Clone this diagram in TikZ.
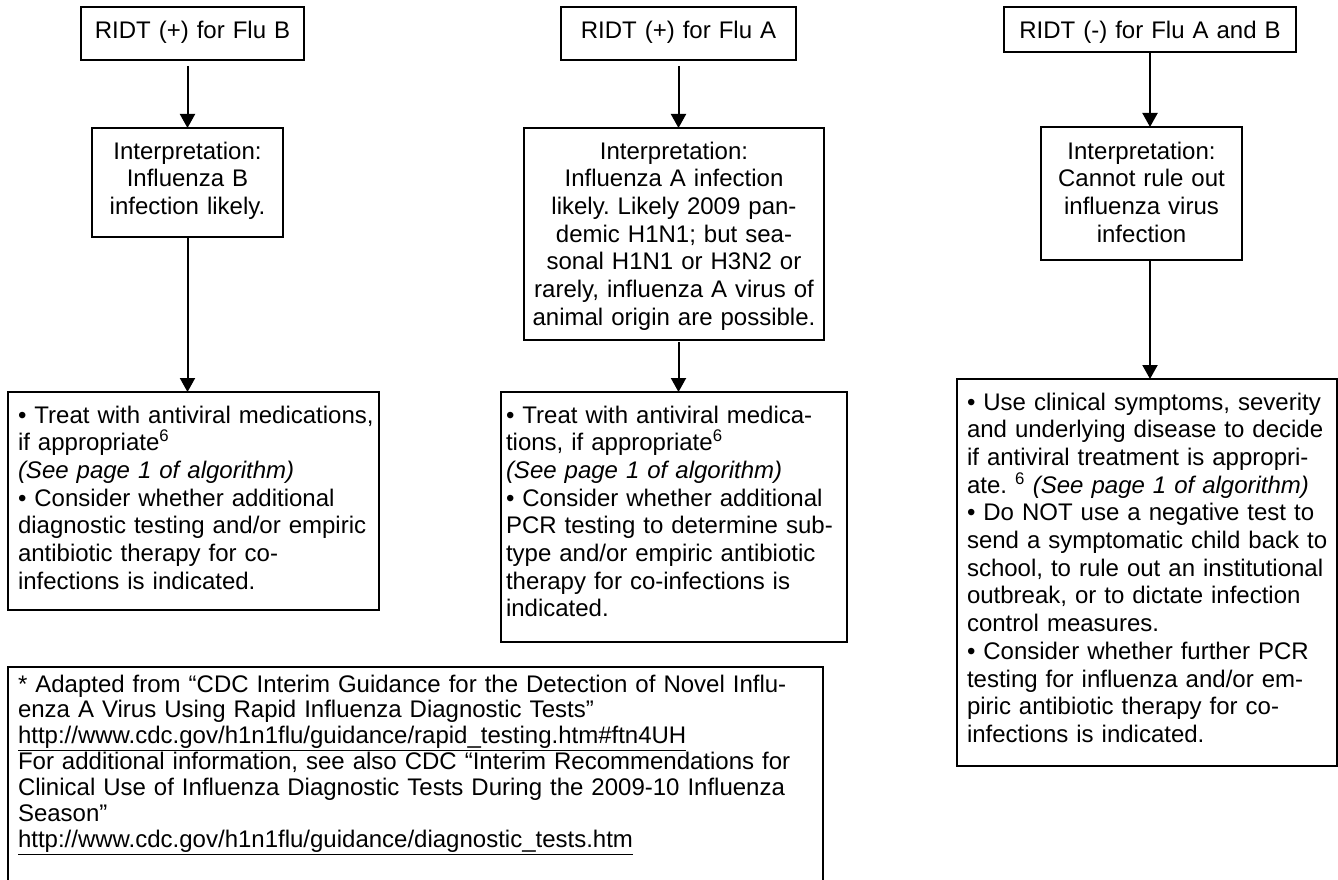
\documentclass[tikz,border=0pt]{standalone}
\usepackage{fontspec}
\setmainfont{Liberation Sans}
\usepackage{tikz}
\usetikzlibrary{arrows.meta}
\frenchspacing
\newcommand{\weblink}[1]{\underline{\smash{#1}\vphantom{p}}}

\begin{document}
\begin{tikzpicture}[x=1pt, y=-1pt,
    every node/.style = {anchor=north west, draw, line width=1.6pt, outer sep=0pt,
        inner ysep=0pt, font=\fontsize{24}{27.7}\selectfont},
    mid/.style = {align=center, inner xsep=5pt},
    lines/.style = {align=left, execute at begin node={\rightskip=0pt plus 1fil minus 30pt}},
    flow/.style = {line width=2pt, -{Triangle[length=14pt, width=15pt]}}]
    \useasboundingbox (0, 0) rectangle (1338, 880);
    % tests
    \node (testB) at (81, 7) [align=center, inner xsep=10pt, text width=203pt, text height=32pt, text depth=21pt] {RIDT (+) for Flu B};
    \node (testA) at (561, 7) [align=center, inner xsep=10pt, text width=215pt, text height=32pt, text depth=21pt] {RIDT (+) for Flu A};
    \node (testN) at (1004, 7) [align=center, inner xsep=10pt, text width=272pt, text height=32pt, text depth=13pt] {RIDT (-) for Flu A and B};
    % interpretation
    \node (interpB) at (92, 128) [mid, text width=181pt, text height=31pt, text depth=78pt]
        {Interpretation:\\ Influenza B\\ infection likely.};
    \node (interpA) at (524, 128) [mid, text width=290pt, text height=31pt, text depth=181pt]
        {Interpretation:\\ Influenza A infection\\ likely. Likely 2009 pan-\\ demic H1N1; but sea-\\
         sonal H1N1 or H3N2 or\\ rarely, influenza A virus of\\ animal origin are possible.};
    \node (interpN) at (1041, 127) [mid, text width=191pt, text height=32pt, text depth=101pt]
        {Interpretation:\\ Cannot rule out\\ influenza virus\\ infection};
    % what to do
    \node (treatB) at (8, 392) [lines, inner xsep=10pt, text width=351pt, text height=31pt, text depth=187pt]
        {• Treat with antiviral medications,\\
         if appropriate\textsuperscript{6}\\
         \textit{(See page 1 of algorithm)}\\
         • Consider whether additional\\
         diagnostic testing and/or empiric\\
         antibiotic therapy for co-\\
         infections is indicated.};
    \node (treatA) at (501, 392) [lines, inner xsep=5pt, text width=336pt, text height=31pt, text depth=219pt]
        {• Treat with antiviral medica-\\
         tions, if appropriate\textsuperscript{6}\\
         \textit{(See page 1 of algorithm)}\\
         • Consider whether additional\\
         PCR testing to determine sub-\\
         type and/or empiric antibiotic\\
         therapy for co-infections is\\
         indicated.};
    \node (treatN) at (957, 379) [lines, inner xsep=10pt, text width=360pt, text height=31pt, text depth=356pt]
        {• Use clinical symptoms, severity\\
         and underlying disease to decide\\
         if antiviral treatment is appropri-\\
         ate. \textsuperscript{6} \textit{(See page 1 of algorithm)}\\
         • Do NOT use a negative test to\\
         send a symptomatic child back to\\
         school, to rule out an institutional\\
         outbreak, or to dictate infection\\
         control measures.\\
         • Consider whether further PCR\\
         testing for influenza and/or em-\\
         piric antibiotic therapy for co-\\
         infections is indicated.};
    % sources
    \node (source) at (8, 667) [lines, inner xsep=10pt, text width=795pt, text height=25pt, text depth=211pt,
        font=\fontsize{24}{25.9}\selectfont]
        {* Adapted from “CDC Interim Guidance for the Detection of Novel Influ-\\
         enza A Virus Using Rapid Influenza Diagnostic Tests”\\
         \weblink{http://www.cdc.gov/h1n1flu/guidance/rapid\_testing.htm\#ftn4UH}\\
         For additional information, see also CDC “Interim Recommendations for\\
         Clinical Use of Influenza Diagnostic Tests During the 2009-10 Influenza\\
         Season”\\
         \weblink{http://www.cdc.gov/h1n1flu/guidance/diagnostic\_tests.htm}};
    % arrows
    \draw[flow, shorten <=6pt] (testB.south -| interpB.north) -- (interpB.north);
    \draw[flow] (interpB.south) -- (interpB.south |- treatB.north);
    \draw[flow, shorten <=6pt] (testA.south) -- (testA.south |- interpA.north);
    \draw[flow, shorten <=2pt] (interpA.south -| testA.south) -- (testA.south |- treatA.north);
    \draw[flow] (testN.south) -- (testN.south |- interpN.north);
    \draw[flow] (interpN.south -| testN.south) -- (testN.south |- treatN.north);
\end{tikzpicture}
\end{document}
